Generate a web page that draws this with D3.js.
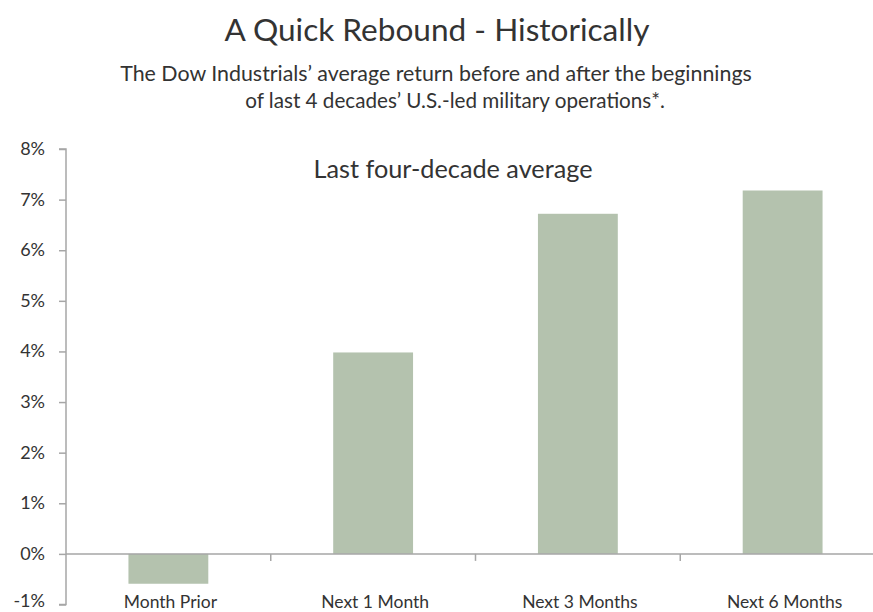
<!DOCTYPE html>
<html>
<head>
<meta charset="utf-8">
<script src="https://cdn.jsdelivr.net/npm/d3@7"></script>
<style>
  body { margin: 0; background: #fff; }
  text { font-family: "Lato", "Open Sans", sans-serif; fill: #333; }
</style>
</head>
<body>
<svg id="chart" width="873" height="612"></svg>
<script>
// values (percent)
let categories = ['Month Prior', 'Next 1 Month', 'Next 3 Months', 'Next 6 Months'];
let avgReturn = [-0.59, 3.98, 6.72, 7.18];
let yTicks = [-1, 0, 1, 2, 3, 4, 5, 6, 7, 8];

let svg = d3.select('#chart');
let axisColor = '#a6a6a6';
let barColor = '#b4c2ae';

// plot area, the last band runs past the right edge like in the original
let plotLeft = 66, plotRight = 885, plotTop = 149, plotBottom = 604.5;

let x = d3.scaleBand()
  .domain(categories)
  .range([plotLeft, plotRight])
  .paddingInner(0.61)
  .paddingOuter(0.305);

let y = d3.scaleLinear()
  .domain([-1, 8])
  .range([plotBottom, plotTop]);

// shrink/grow a text to a measured width
function fitText(sel, w) {
  let len = sel.node().getComputedTextLength();
  let fs = parseFloat(sel.style('font-size'));
  sel.style('font-size', (fs * w / len) + 'px');
}

// titles
let t1 = svg.append('text')
  .attr('x', 437).attr('y', 41)
  .attr('text-anchor', 'middle')
  .style('font-size', '30px')
  .text('A Quick Rebound - Historically');
fitText(t1, 425);

let s1 = svg.append('text')
  .attr('x', 436).attr('y', 81)
  .attr('text-anchor', 'middle')
  .style('font-size', '19px')
  .text('The Dow Industrials\u2019 average return before and after the beginnings');
fitText(s1, 632);

let s2 = svg.append('text')
  .attr('x', 455).attr('y', 108)
  .attr('text-anchor', 'middle')
  .style('font-size', '19px')
  .text('of last 4 decades\u2019 U.S.-led military operations*.');
fitText(s2, 420);

let s3 = svg.append('text')
  .attr('x', 453).attr('y', 178)
  .attr('text-anchor', 'middle')
  .style('font-size', '22px')
  .text('Last four-decade average');
fitText(s3, 279);

// bars
svg.selectAll('rect.bar')
  .data(categories)
  .enter().append('rect')
  .attr('class', 'bar')
  .attr('x', d => x(d))
  .attr('width', x.bandwidth())
  .attr('y', (d, i) => y(Math.max(0, avgReturn[i])))
  .attr('height', (d, i) => Math.abs(y(avgReturn[i]) - y(0)))
  .attr('fill', barColor);

// y axis
let yAxis = d3.axisLeft(y)
  .tickValues(yTicks)
  .tickSize(7)
  .tickPadding(14)
  .tickFormat(d => d + '%');

let gy = svg.append('g')
  .attr('transform', 'translate(' + plotLeft + ',0)')
  .call(yAxis);
gy.select('.domain').attr('stroke', axisColor).attr('stroke-width', 1.5)
  .attr('d', 'M-7,' + y(8) + 'H0V' + y(-1) + 'H-7');
gy.selectAll('.tick line').attr('stroke', axisColor).attr('stroke-width', 1.5);
gy.selectAll('.tick text')
  .style('font-size', '18px')
  .attr('dy', d => d == -1 ? '0.12em' : '0.3em') // bottom one nudged up so it stays inside
  .attr('fill', '#404040')
  .style('font-family', '"Lato", sans-serif');

// x axis on the zero line, ticks between categories
let bounds = categories.slice(1).map(c => x(c) - x.step() * x.paddingInner() / 2);
svg.append('line')
  .attr('x1', plotLeft).attr('x2', plotRight)
  .attr('y1', y(0)).attr('y2', y(0))
  .attr('stroke', axisColor).attr('stroke-width', 1.5);
svg.selectAll('line.xtick')
  .data(bounds)
  .enter().append('line')
  .attr('class', 'xtick')
  .attr('x1', d => d).attr('x2', d => d)
  .attr('y1', y(0)).attr('y2', y(0) + 7)
  .attr('stroke', axisColor).attr('stroke-width', 1.5);

// category labels sit low, near the -1% line
svg.selectAll('text.cat')
  .data(categories)
  .enter().append('text')
  .attr('class', 'cat')
  .attr('x', d => x(d) + x.bandwidth() / 2 + 2)
  .attr('y', 608)
  .attr('text-anchor', 'middle')
  .style('font-size', '17.5px')
  .text(d => d);
</script>
</body>
</html>
